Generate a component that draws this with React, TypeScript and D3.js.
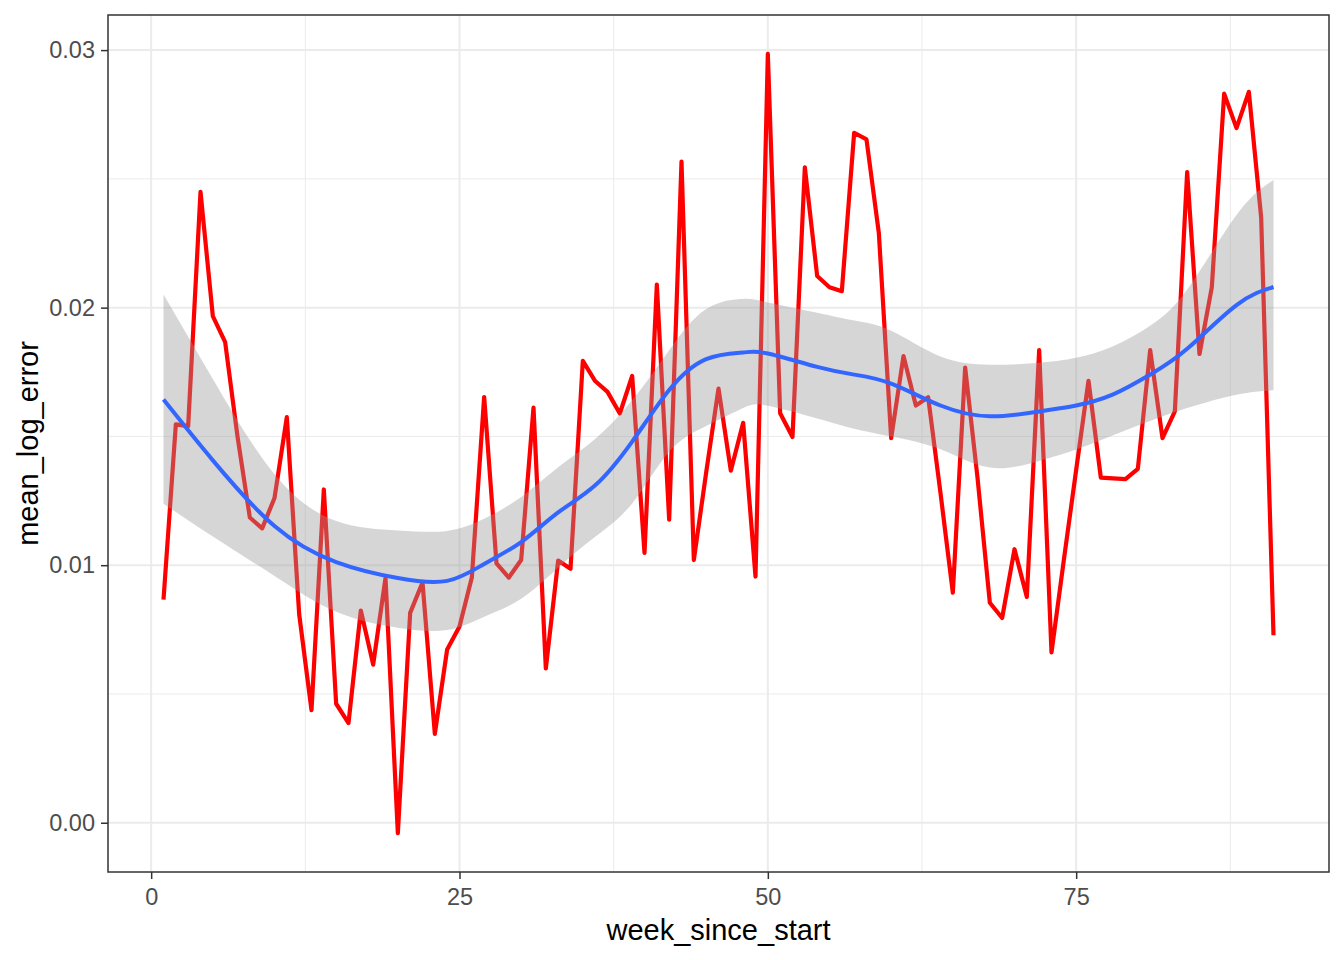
import React, { useEffect, useRef } from 'react';
import * as d3 from 'd3';

// weekly mean log error, week 1..91
const meanLogError = [
  0.00866, 0.01547, 0.0154, 0.0245, 0.01967, 0.01866, 0.0150, 0.01185, 0.01143, 0.01261,
  0.01575, 0.0081, 0.00437, 0.01294, 0.00462, 0.00387, 0.00824, 0.00614, 0.0095, -0.0004,
  0.00815, 0.00933, 0.00345, 0.00673, 0.00762, 0.00952, 0.01653, 0.01007, 0.00952, 0.0102,
  0.01612, 0.00599, 0.01018, 0.00986, 0.01793, 0.01715, 0.01673, 0.01589, 0.01735, 0.01048,
  0.02089, 0.01177, 0.02567, 0.0102, 0.0136, 0.01686, 0.01367, 0.01553, 0.00956, 0.02985,
  0.0159, 0.01498, 0.02545, 0.02123, 0.02079, 0.02064, 0.02679, 0.02653, 0.0229, 0.01493,
  0.01812, 0.0162, 0.01652, 0.0128, 0.00893, 0.01767, 0.0134, 0.00854, 0.00795, 0.01062,
  0.00877, 0.01835, 0.00661, 0.0102, 0.0137, 0.01716, 0.0134, 0.01337, 0.01334, 0.01374,
  0.01835, 0.01493, 0.01597, 0.02526, 0.0182, 0.0208, 0.02831, 0.02697, 0.02838, 0.0235,
  0.00728,
];
const weeks = meanLogError.map((_, i) => i + 1);

// loess smooth + confidence band
const smoothWeeks = [1, 5, 10, 15, 20, 24, 27, 30, 33, 36, 39, 42, 45, 48, 50, 54, 57, 60, 64, 68, 72, 75, 78, 81, 84, 88, 91];
const smoothFit = [0.01643, 0.01407, 0.01152, 0.01012, 0.0095, 0.00939, 0.01005, 0.0109, 0.01205, 0.0131, 0.0148, 0.0168, 0.0180, 0.01826, 0.01822, 0.0177, 0.0174, 0.01705, 0.0162, 0.01578, 0.01597, 0.0162, 0.01663, 0.0174, 0.0184, 0.0201, 0.0208];
const smoothUpper = [0.02051, 0.01723, 0.01353, 0.01172, 0.01135, 0.01133, 0.0118, 0.01265, 0.0138, 0.0149, 0.0164, 0.01835, 0.01995, 0.02034, 0.0202, 0.0198, 0.0195, 0.0191, 0.0181, 0.01778, 0.01786, 0.01805, 0.0185, 0.0193, 0.0207, 0.0236, 0.02496];
const smoothLower = [0.01239, 0.01111, 0.00958, 0.00819, 0.00757, 0.00748, 0.008, 0.0087, 0.0099, 0.0111, 0.0124, 0.0144, 0.0154, 0.0161, 0.01619, 0.0157, 0.0153, 0.0150, 0.0145, 0.01379, 0.01405, 0.01449, 0.01505, 0.0156, 0.0161, 0.01662, 0.01679];

const xTicks = [0, 25, 50, 75];
const xMinor = [12.5, 37.5, 62.5, 87.5];
const yTicks = [0, 0.01, 0.02, 0.03];
const yMinor = [0.005, 0.015, 0.025];

export default function App() {
  const ref = useRef<SVGSVGElement>(null);

  useEffect(() => {
    const W = 1344, H = 960;
    const margin = { top: 15, right: 15, bottom: 88, left: 108 };
    const svg = d3.select(ref.current);
    svg.selectAll('*').remove();

    const xMin = d3.min(weeks)!, xMax = d3.max(weeks)!;
    const xPad = (xMax - xMin) * 0.05;
    const allY = meanLogError.concat(smoothUpper, smoothLower);
    const yMin = d3.min(allY)!, yMax = d3.max(allY)!;
    const yPad = (yMax - yMin) * 0.05;

    const x = d3.scaleLinear().domain([xMin - xPad, xMax + xPad]).range([margin.left, W - margin.right]);
    const y = d3.scaleLinear().domain([yMin - yPad, yMax + yPad]).range([H - margin.bottom, margin.top]);

    const pl = margin.left, pr = W - margin.right, pt = margin.top, pb = H - margin.bottom;

    svg.append('rect').attr('x', pl).attr('y', pt).attr('width', pr - pl).attr('height', pb - pt).attr('fill', '#FFFFFF');

    const grid = svg.append('g');
    grid.selectAll('.ymin').data(yMinor).enter().append('line')
      .attr('x1', pl).attr('x2', pr).attr('y1', d => y(d)).attr('y2', d => y(d))
      .attr('stroke', '#EBEBEB').attr('stroke-width', 1);
    grid.selectAll('.xmin').data(xMinor).enter().append('line')
      .attr('y1', pt).attr('y2', pb).attr('x1', d => x(d)).attr('x2', d => x(d))
      .attr('stroke', '#EBEBEB').attr('stroke-width', 1);
    grid.selectAll('.ymaj').data(yTicks).enter().append('line')
      .attr('x1', pl).attr('x2', pr).attr('y1', d => y(d)).attr('y2', d => y(d))
      .attr('stroke', '#EBEBEB').attr('stroke-width', 2);
    grid.selectAll('.xmaj').data(xTicks).enter().append('line')
      .attr('y1', pt).attr('y2', pb).attr('x1', d => x(d)).attr('x2', d => x(d))
      .attr('stroke', '#EBEBEB').attr('stroke-width', 2);

    // red data line
    const line = d3.line<number>().x((_, i) => x(weeks[i])).y(d => y(d));
    svg.append('path').datum(meanLogError)
      .attr('d', line)
      .attr('fill', 'none')
      .attr('stroke', '#FF0000')
      .attr('stroke-width', 4.2)
      .attr('stroke-linejoin', 'round')
      .attr('stroke-linecap', 'butt');

    // confidence band
    const band = d3.area<number>()
      .x((_, i) => x(smoothWeeks[i]))
      .y0((_, i) => y(smoothLower[i]))
      .y1((_, i) => y(smoothUpper[i]))
      .curve(d3.curveNatural);
    svg.append('path').datum(smoothFit)
      .attr('d', band)
      .attr('fill', '#999999')
      .attr('fill-opacity', 0.4);

    const smooth = d3.line<number>()
      .x((_, i) => x(smoothWeeks[i]))
      .y(d => y(d))
      .curve(d3.curveNatural);
    svg.append('path').datum(smoothFit)
      .attr('d', smooth)
      .attr('fill', 'none')
      .attr('stroke', '#3366FF')
      .attr('stroke-width', 4);

    // panel border
    svg.append('rect').attr('x', pl).attr('y', pt).attr('width', pr - pl).attr('height', pb - pt)
      .attr('fill', 'none').attr('stroke', '#333333').attr('stroke-width', 1.5);

    const font = '"Liberation Sans", Arial, sans-serif';

    const xAxis = d3.axisBottom(x).tickValues(xTicks).tickSize(7).tickPadding(9).tickFormat(d3.format('d') as any);
    const gx = svg.append('g').attr('transform', `translate(0,${pb})`).call(xAxis);
    gx.select('.domain').remove();
    gx.selectAll('line').attr('stroke', '#333333').attr('stroke-width', 1.5);
    gx.selectAll('text').attr('fill', '#4D4D4D').style('font-family', font).style('font-size', '23.5px');

    const yAxis = d3.axisLeft(y).tickValues(yTicks).tickSize(7).tickPadding(6).tickFormat(d3.format('.2f') as any);
    const gy = svg.append('g').attr('transform', `translate(${pl},0)`).call(yAxis);
    gy.select('.domain').remove();
    gy.selectAll('line').attr('stroke', '#333333').attr('stroke-width', 1.5);
    gy.selectAll('text').attr('fill', '#4D4D4D').style('font-family', font).style('font-size', '23.5px');

    svg.append('text')
      .attr('x', (pl + pr) / 2).attr('y', 940)
      .attr('text-anchor', 'middle')
      .style('font-family', font).style('font-size', '29px').attr('fill', '#000000')
      .text('week_since_start');

    svg.append('text')
      .attr('transform', `translate(38,${(pt + pb) / 2}) rotate(-90)`)
      .attr('text-anchor', 'middle')
      .style('font-family', font).style('font-size', '29px').attr('fill', '#000000')
      .text('mean_log_error');
  }, []);

  return (
    <svg ref={ref} width={1344} height={960}
      style={{ position: 'absolute', left: 0, top: 0, background: '#FFFFFF' }} />
  );
}
